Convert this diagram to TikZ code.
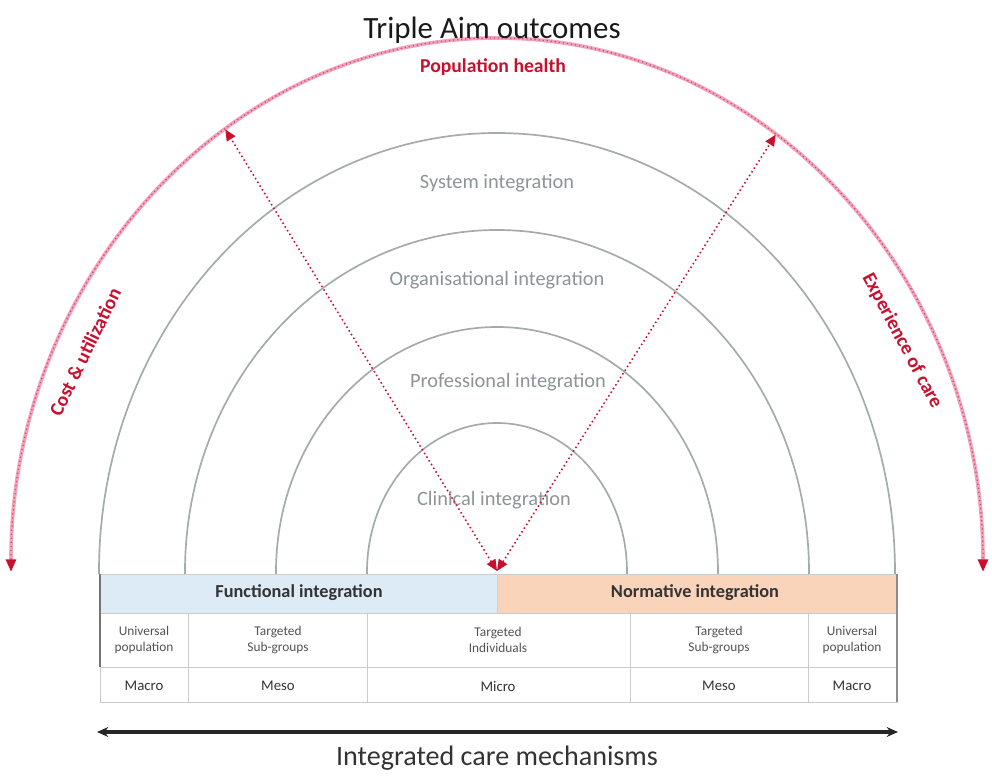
\documentclass[tikz,border=0pt]{standalone}
\usepackage{fontspec}
\setmainfont{Carlito}
\usetikzlibrary{arrows.meta}

\definecolor{aimred}{HTML}{C8102E}
\definecolor{aimpink}{HTML}{F2A3BA}
\definecolor{aimdot}{HTML}{D9486F}
\definecolor{ringgray}{HTML}{A4ABAD}
\definecolor{labelgray}{HTML}{8C9497}
\definecolor{gridgray}{HTML}{C9CDCF}
\definecolor{funcblue}{HTML}{DDEBF7}
\definecolor{normpeach}{HTML}{FAD4BA}
\definecolor{inkdark}{HTML}{333333}

\begin{document}
\begin{tikzpicture}[x=0.025cm, y=0.025cm,
    ring/.style={draw=ringgray, line width=1.2pt},
    ringlabel/.style={text=labelgray, font=\fontsize{14.5}{16}\selectfont},
    aimlabel/.style={text=aimred, font=\bfseries\fontsize{14}{16}\selectfont},
    aimarc/.style={draw=aimpink, line width=2.6pt,
        {Triangle[length=9pt,width=7pt,color=aimred]}-{Triangle[length=9pt,width=7pt,color=aimred]}},
    aimdots/.style={draw=aimdot, line width=0.9pt, dotted, shorten <=9pt, shorten >=9pt},
    linkarrow/.style={draw=aimred, line width=1.1pt, dotted,
        {Triangle[length=8pt,width=7pt]}-{Triangle[length=8pt,width=7pt]}},
    grid/.style={draw=gridgray, line width=0.7pt},
    barlabel/.style={text=inkdark, font=\bfseries\fontsize{13}{15}\selectfont},
    celltext/.style={text=inkdark!85, align=center, font=\fontsize{9.5}{11.5}\selectfont},
    leveltext/.style={text=inkdark, font=\fontsize{10.5}{12}\selectfont},
    ]
\useasboundingbox (-497,-204) rectangle (495,572);

% integration rings
\foreach \rx/\ry in {130/149, 221/245, 312/342, 398/439}
    \draw[ring] (-\rx,-2) -- (-\rx,0) arc[start angle=180, end angle=0, x radius=\rx, y radius=\ry] -- (\rx,-2);

\node[ringlabel] (sys) at (0,389) {System integration};
\node[ringlabel] (org) at (0,292) {Organisational integration};
\node[ringlabel] (prof) at (11,190) {Professional integration};
\node[ringlabel] (clin) at (-3,72) {Clinical integration};

% triple aim arc
\coordinate (costend) at (-486,0);
\coordinate (expend) at (486,0);
\coordinate (hub) at (0,1);
\coordinate (leftaim) at (124:486 and 534);
\coordinate (rightaim) at (55:486 and 534);

\draw[aimarc] (costend) arc[start angle=180, end angle=0, x radius=486, y radius=534];
\draw[aimdots] (costend) arc[start angle=180, end angle=0, x radius=486, y radius=534];

\draw[linkarrow] (hub) -- (leftaim);
\draw[linkarrow] (hub) -- (rightaim);

\node[font=\fontsize{22}{24}\selectfont, text=black!90] (aim) at (-5,542) {Triple Aim outcomes};
\node[aimlabel] (pop) at (-4,505) {Population health};
\node[aimlabel, rotate=64] (cost) at (-412,220) {Cost \& utilization};
\node[aimlabel, rotate=-62] (exp) at (405,231) {Experience of care};

% mechanisms table
\fill[funcblue] (-397,-2) rectangle (0,-41);
\fill[normpeach] (0,-2) rectangle (400,-41);
\draw[grid] (-397,-2) rectangle (400,-130);
\draw[grid] (-397,-41) -- (400,-41);
\draw[grid] (-397,-95) -- (400,-95);
\foreach \xc in {-309,-130,133,311}
    \draw[grid] (\xc,-41) -- (\xc,-130);
\draw[draw=funcblue!60!black!40, line width=0.7pt] (0,-2) -- (0,-41);
\draw[draw=black!55, line width=0.8pt] (-397,-2) -- (-397,-95);
\draw[draw=black!45, line width=0.8pt] (400,-2) -- (400,-130);

\node[barlabel] (func) at (-198,-21) {Functional integration};
\node[barlabel] (norm) at (198,-21) {Normative integration};

\node[celltext] (pop1) at (-353,-68) {Universal\\population};
\node[celltext] (sub1) at (-219,-68) {Targeted\\Sub-groups};
\node[celltext] (ind) at (1,-68) {Targeted\\Individuals};
\node[celltext] (sub2) at (222,-68) {Targeted\\Sub-groups};
\node[celltext] (pop2) at (355,-68) {Universal\\population};

\node[leveltext] (mac1) at (-353,-114) {Macro};
\node[leveltext] (mes1) at (-219,-114) {Meso};
\node[leveltext] (mic) at (1,-114) {Micro};
\node[leveltext] (mes2) at (222,-114) {Meso};
\node[leveltext] (mac2) at (355,-114) {Macro};

% care mechanisms axis
\coordinate (axl) at (-400,-160);
\coordinate (axr) at (401,-160);
\draw[draw=black!85, line width=2.2pt, {Stealth[length=8pt,width=7pt]}-{Stealth[length=8pt,width=7pt]}] (axl) -- (axr);
\node[font=\fontsize{20}{22}\selectfont, text=black!80] (mech) at (0,-186) {Integrated care mechanisms};
\end{tikzpicture}
\end{document}
